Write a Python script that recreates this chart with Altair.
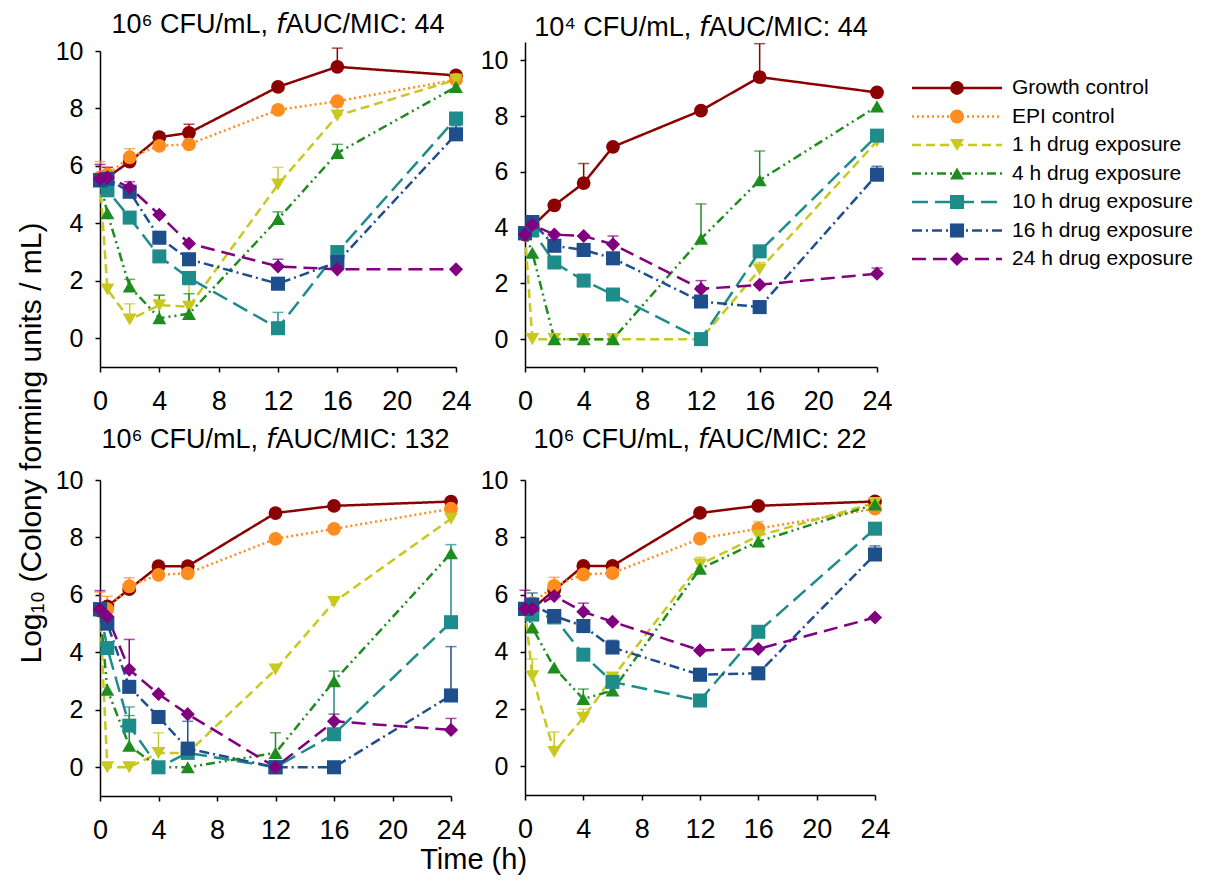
import altair as alt
import pandas as pd

TIMES = [0, 0.5, 2, 4, 6, 12, 16, 24]
SERIES = ["Growth control", "EPI control", "1 h drug exposure", "4 h drug exposure",
          "10 h drug exposure", "16 h drug exposure", "24 h drug exposure"]
COLORS = ["#8B0000", "#FF8C1F", "#C8C81E", "#1E8C1E", "#1F8C8C", "#1F4E8C", "#800080"]
SHAPES = ["circle", "circle", "triangle-down", "triangle-up", "square", "square", "diamond"]
SIZES = [190, 200, 190, 190, 150, 150, 230]
LEGEND_SIZES = [270, 280, 260, 260, 220, 220, 320]
DASHES = [[1, 0], [2, 3], [9, 5], [9, 4, 2, 4, 2, 4], [16, 7], [10, 4, 2, 4], [14, 7]]

PANEL_TITLES = ["10\u2076 CFU/mL, \U0001D627AUC/MIC: 44", "10\u2074 CFU/mL, \U0001D627AUC/MIC: 44",
                "10\u2076 CFU/mL, \U0001D627AUC/MIC: 132", "10\u2076 CFU/mL, \U0001D627AUC/MIC: 22"]
Y_MAX = [10, 10.66, 10, 10]

# ---- Panel 1: 10^6 CFU/mL, fAUC/MIC 44 ----
P1_GROWTH = [5.5, 5.6, 6.15, 7.0, 7.15, 8.75, 9.45, 9.15]
P1_EPI = [5.6, 5.7, 6.3, 6.7, 6.75, 7.95, 8.25, 9.0]
P1_H1 = [5.5, 1.7, 0.65, 1.15, 1.1, 5.35, 7.75, 9.0]
P1_H4 = [5.5, 4.35, 1.8, 0.7, 0.85, 4.15, 6.45, 8.75]
P1_H10 = [5.5, 5.15, 4.2, 2.85, 2.1, 0.35, 3.0, 7.65]
P1_H16 = [5.5, 5.55, 5.1, 3.5, 2.75, 1.9, 2.65, 7.1]
P1_H24 = [5.55, 5.6, 5.25, 4.3, 3.3, 2.5, 2.4, 2.4]
P1_ERR_GROWTH = [None, None, None, None, 7.45, None, 10.1, 9.25]
P1_ERR_EPI = [6.15, 5.95, 6.6, None, None, None, None, None]
P1_ERR_H1 = [None, None, 1.2, 1.5, 1.85, 5.95, 8.05, None]
P1_ERR_H4 = [None, None, 2.05, 1.5, 1.55, 4.4, 6.75, None]
P1_ERR_H10 = [None, None, None, None, None, 0.9, None, None]
P1_ERR_H16 = [None, None, None, None, None, None, None, 7.4]
P1_ERR_H24 = [6.05, 5.95, 5.45, None, None, 2.75, None, None]

# ---- Panel 2: 10^4 CFU/mL, fAUC/MIC 44 ----
P2_GROWTH = [3.75, 4.05, 4.8, 5.6, 6.9, 8.2, 9.4, 8.85]
P2_EPI = [None] * 8
P2_H1 = [3.8, 0, 0, 0, 0, 0, 2.5, 7.1]
P2_H4 = [3.8, 3.1, 0, 0, 0, 3.6, 5.7, 8.35]
P2_H10 = [3.8, 3.9, 2.75, 2.1, 1.6, 0, 3.15, 7.3]
P2_H16 = [3.8, 4.2, 3.35, 3.2, 2.9, 1.35, 1.15, 5.9]
P2_H24 = [3.75, 4.1, 3.75, 3.7, 3.4, 1.8, 1.95, 2.35]
P2_ERR_GROWTH = [None, None, None, 6.3, None, None, 10.6, None]
P2_ERR_EPI = [None] * 8
P2_ERR_H1 = [None, None, None, None, None, None, 2.75, None]
P2_ERR_H4 = [None, None, None, None, None, 4.85, 6.75, None]
P2_ERR_H10 = [None] * 8
P2_ERR_H16 = [None, None, None, None, None, None, None, 6.2]
P2_ERR_H24 = [None, None, None, None, 3.7, 2.1, None, 2.55]

# ---- Panel 3: 10^6 CFU/mL, fAUC/MIC 132 ----
P3_GROWTH = [5.45, 5.6, 6.2, 7.0, 7.0, 8.85, 9.1, 9.25]
P3_EPI = [5.5, 5.5, 6.3, 6.7, 6.75, 7.95, 8.3, 9.0]
P3_H1 = [5.5, 0, 0, 0.5, 0.5, 3.4, 5.75, 8.65]
P3_H4 = [5.5, 2.7, 0.75, 0.0, 0.0, 0.5, 3.0, 7.45]
P3_H10 = [5.5, 4.15, 1.45, 0, 0.5, 0, 1.15, 5.05]
P3_H16 = [5.5, 5.0, 2.8, 1.75, 0.65, 0, 0, 2.5]
P3_H24 = [5.5, 5.25, 3.4, 2.55, 1.85, 0, 1.6, 1.3]
P3_ERR_GROWTH = [None] * 8
P3_ERR_EPI = [6.1, 5.95, 6.6, None, None, None, None, None]
P3_ERR_H1 = [None, None, None, 1.2, None, None, None, None]
P3_ERR_H4 = [None, None, 1.8, None, None, 1.2, 3.35, None]
P3_ERR_H10 = [None, None, 2.1, None, None, None, 2.85, 7.75]
P3_ERR_H16 = [None, None, None, None, 1.6, None, None, 4.2]
P3_ERR_H24 = [6.15, None, 4.45, None, None, None, 1.85, 1.7]

# ---- Panel 4: 10^6 CFU/mL, fAUC/MIC 22 ----
P4_GROWTH = [5.5, 5.5, 6.15, 7.0, 7.0, 8.85, 9.1, 9.25]
P4_EPI = [5.5, 5.7, 6.3, 6.7, 6.75, 7.95, 8.3, 9.0]
P4_H1 = [5.5, 3.15, 0.5, 1.7, 3.1, 7.05, 8.05, 9.2]
P4_H4 = [5.5, 4.85, 3.45, 2.35, 2.65, 6.9, 7.85, 9.15]
P4_H10 = [5.5, 5.3, 5.2, 3.9, 2.95, 2.3, 4.7, 8.3]
P4_H16 = [5.5, 5.65, 5.25, 4.9, 4.15, 3.2, 3.25, 7.4]
P4_H24 = [5.5, 5.5, 5.95, 5.4, 5.05, 4.05, 4.1, 5.2]
P4_ERR_GROWTH = [None] * 8
P4_ERR_EPI = [None, None, 6.6, None, None, None, None, None]
P4_ERR_H1 = [None, 3.75, 1.2, 2.0, None, 7.3, 8.55, None]
P4_ERR_H4 = [None, None, None, 2.7, None, None, None, None]
P4_ERR_H10 = [None, None, None, None, None, None, 4.9, None]
P4_ERR_H16 = [None, 6.05, None, None, 4.4, None, None, 7.7]
P4_ERR_H24 = [6.15, None, 6.1, 5.7, None, None, None, None]

PANELS = [
    ([P1_GROWTH, P1_EPI, P1_H1, P1_H4, P1_H10, P1_H16, P1_H24],
     [P1_ERR_GROWTH, P1_ERR_EPI, P1_ERR_H1, P1_ERR_H4, P1_ERR_H10, P1_ERR_H16, P1_ERR_H24]),
    ([P2_GROWTH, P2_EPI, P2_H1, P2_H4, P2_H10, P2_H16, P2_H24],
     [P2_ERR_GROWTH, P2_ERR_EPI, P2_ERR_H1, P2_ERR_H4, P2_ERR_H10, P2_ERR_H16, P2_ERR_H24]),
    ([P3_GROWTH, P3_EPI, P3_H1, P3_H4, P3_H10, P3_H16, P3_H24],
     [P3_ERR_GROWTH, P3_ERR_EPI, P3_ERR_H1, P3_ERR_H4, P3_ERR_H10, P3_ERR_H16, P3_ERR_H24]),
    ([P4_GROWTH, P4_EPI, P4_H1, P4_H4, P4_H10, P4_H16, P4_H24],
     [P4_ERR_GROWTH, P4_ERR_EPI, P4_ERR_H1, P4_ERR_H4, P4_ERR_H10, P4_ERR_H16, P4_ERR_H24]),
]

FONT = "Liberation Sans"
color_scale = alt.Scale(domain=SERIES, range=COLORS)
dash_scale = alt.Scale(domain=SERIES, range=DASHES)
shape_scale = alt.Scale(domain=SERIES, range=SHAPES)
size_scale = alt.Scale(domain=SERIES, range=SIZES)
legend_size_scale = alt.Scale(domain=SERIES, range=LEGEND_SIZES)


def panel(i, width, height, title_offset, top_gap=0):
    vals, errs = PANELS[i]
    rows, erows = [], []
    for s, name in enumerate(SERIES):
        for k, t in enumerate(TIMES):
            if vals[s][k] is not None:
                rows.append({"series": name, "order": s, "t": t, "v": vals[s][k]})
                if errs[s][k] is not None:
                    erows.append({"series": name, "order": s, "t": t, "v": vals[s][k], "top": errs[s][k]})
    df = pd.DataFrame(rows)
    edf = pd.DataFrame(erows)
    yscale = alt.Scale(domain=[-1, Y_MAX[i]], nice=False, zero=False)
    if top_gap:
        yscale = alt.Scale(domain=[-1, Y_MAX[i]], nice=False, zero=False, range=[height, top_gap])
    x = alt.X("t:Q", scale=alt.Scale(domain=[0, 24], nice=False, zero=False),
              axis=alt.Axis(values=[0, 4, 8, 12, 16, 20, 24], title=None, labelFlush=False))
    y = alt.Y("v:Q", scale=yscale, axis=alt.Axis(values=[0, 2, 4, 6, 8, 10], title=None))
    col = alt.Color("series:N", scale=color_scale, legend=None)
    lines = alt.Chart(df).mark_line(strokeWidth=2.5).encode(
        x=x, y=y, color=col,
        strokeDash=alt.StrokeDash("series:N", scale=dash_scale, legend=None))
    rule = alt.Chart(edf).mark_rule(strokeWidth=1.5).encode(
        x="t:Q", y="v:Q", y2="top:Q", color=col)
    cap = alt.Chart(edf).mark_tick(orient="horizontal", size=11, thickness=1.5).encode(
        x="t:Q", y="top:Q", color=col)
    pts = alt.Chart(df).mark_point(filled=True, opacity=1).encode(
        x=x, y=y, color=col,
        shape=alt.Shape("series:N", scale=shape_scale, legend=None),
        size=alt.Size("series:N", scale=size_scale, legend=None),
        order=alt.Order("order:Q"))
    return alt.layer(lines, rule, cap, pts).properties(
        width=width, height=height,
        title=alt.TitleParams(PANEL_TITLES[i], fontSize=27, font=FONT, fontWeight="normal",
                              color="black", anchor="middle", offset=title_offset))


p1 = panel(0, 356, 325, 0, top_gap=9)
p2 = panel(1, 352, 325, 0)
p3 = panel(2, 351, 316, 14)
p4 = panel(3, 350, 315, 14)

row1 = alt.hconcat(p1, p2, spacing=8)
row2 = alt.hconcat(p3, p4, spacing=13)
grid = alt.vconcat(row1, row2, spacing=12,
                   title=alt.TitleParams("Time (h)", orient="bottom", anchor="middle", fontSize=29,
                                         font=FONT, fontWeight="normal", color="black", offset=3))
left = alt.hconcat(grid, title=alt.TitleParams("Log\u2081\u2080 (Colony forming units / mL)", orient="left",
                                               anchor="middle", fontSize=30, font=FONT,
                                               fontWeight="normal", color="black", offset=8))

leg_df = pd.DataFrame({"series": SERIES})
ly = alt.Y("series:N", axis=None,
           scale=alt.Scale(type="point", domain=SERIES, range=[46, 217], padding=0))
lcol = alt.Color("series:N", scale=color_scale, legend=None)
lrule = alt.Chart(leg_df).mark_rule(strokeWidth=2.5).encode(
    y=ly, x=alt.value(0), x2=alt.value(90), color=lcol,
    strokeDash=alt.StrokeDash("series:N", scale=dash_scale, legend=None))
lpts = alt.Chart(leg_df).mark_point(filled=True, opacity=1).encode(
    y=ly, x=alt.value(45), color=lcol,
    shape=alt.Shape("series:N", scale=shape_scale, legend=None),
    size=alt.Size("series:N", scale=legend_size_scale, legend=None))
ltxt = alt.Chart(leg_df).mark_text(align="left", baseline="middle", fontSize=21, font=FONT,
                                   color="black").encode(y=ly, x=alt.value(100), text="series:N")
legend = alt.layer(lrule, lpts, ltxt).properties(width=270, height=240)

chart = alt.hconcat(left, legend, spacing=17).configure_view(stroke=None).configure_axis(
    grid=False, domainColor="black", tickColor="black", labelColor="black", domainWidth=1.5,
    tickWidth=1.5, tickSize=5, labelFont=FONT
).configure_axisX(labelFontSize=27, labelPadding=16).configure_axisY(
    labelFontSize=25, labelPadding=12
).properties(padding={"left": 9, "top": 3, "right": 0, "bottom": 0})

chart.save("out.html", embed_options={"renderer": "svg", "actions": False})
